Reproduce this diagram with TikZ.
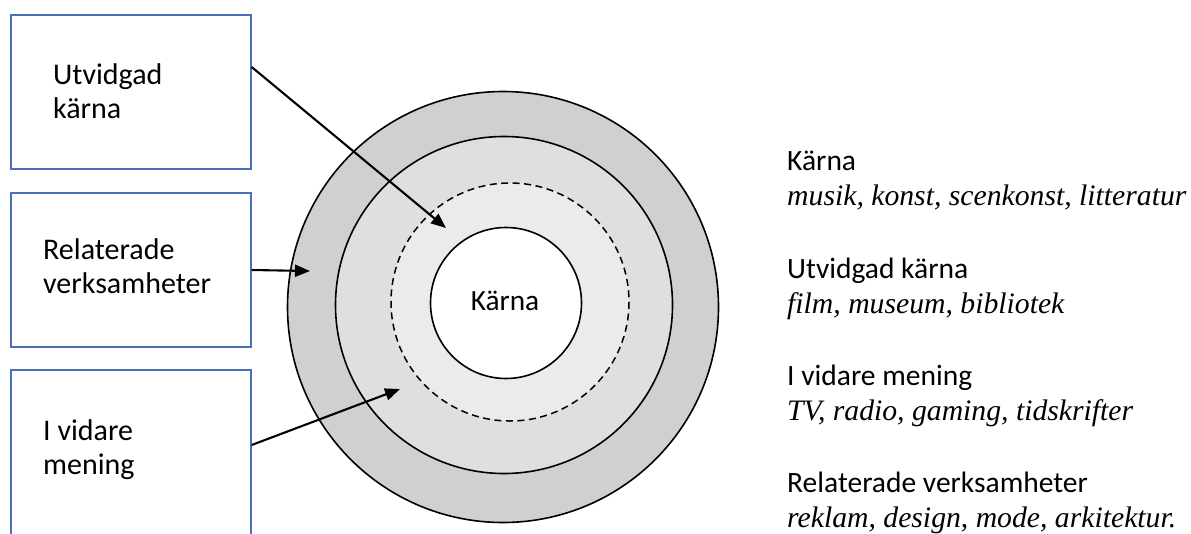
\documentclass[tikz,border=0pt]{standalone}
\usepackage{fontspec}
\setmainfont{Liberation Serif}
\newfontfamily\calfont{Carlito}
\usetikzlibrary{arrows.meta}
\definecolor{boxblue}{HTML}{4A72B8}
\definecolor{ringA}{HTML}{D0D0D0}
\definecolor{ringB}{HTML}{DEDFDF}
\definecolor{ringC}{HTML}{EBEBEB}
\begin{document}
\begin{tikzpicture}[x=1pt,y=-1pt,
  labelbox/.style={draw=boxblue,line width=1.3pt,fill=white,minimum width=240pt,minimum height=154pt,inner sep=0pt},
  boxtext/.style={anchor=base west,inner sep=0pt,font=\calfont\fontsize{30}{33.5}\selectfont,align=left},
  ring/.style={draw=black,line width=1.6pt},
  conn/.style={line width=2.1pt,-{Triangle[length=15pt,width=12pt]}},
  headtext/.style={anchor=base west,inner sep=0pt,font=\calfont\fontsize{29.5}{32}\selectfont},
  itext/.style={anchor=base west,inner sep=0pt,font=\fontsize{29.7}{32}\itshape\selectfont}]
\useasboundingbox (0,0) rectangle (1191,533);
\clip (0,0) rectangle (1191,533);
\fill[white] (0,0) rectangle (1191,533);
% circles
\filldraw[ring,fill=ringA] (503,307) circle[radius=215.5];
\filldraw[ring,fill=ringB] (504,305) circle[radius=168.5];
\filldraw[fill=ringC,draw=black,line width=1.5pt,dash pattern=on 7pt off 4.5pt] (510,302) circle[radius=119];
\filldraw[ring,fill=white] (506,303) circle[radius=75.5];
\node[inner sep=0pt,anchor=base,font=\calfont\fontsize{29.3}{32}\selectfont] (core) at (505,310) {Kärna};
% boxes
\node[labelbox] (box1) at (131,92) {};
\node[labelbox] (box2) at (131,270) {};
\node[labelbox,minimum height=200pt] (box3) at (131,470) {};
\node[boxtext] (t1) at (53,118) {Utvidgad\\kärna};
\node[boxtext] (t2) at (43,293) {Relaterade\\verksamheter};
\node[boxtext] (t3) at (43,474) {I vidare\\mening};
% arrow targets
\coordinate (p1) at (446,228);
\coordinate (p2) at (310,271);
\coordinate (p3) at (400,389);
\draw[conn] ([yshift=25pt]box1.east) -- (p1);
\draw[conn] (box2.east) -- (p2);
\draw[conn] (box3.east |- 0,445) -- (p3);
% legend
\node[headtext] (h1) at (787,170) {Kärna};
\node[itext] (i1) at (787,205) {musik, konst, scenkonst, litteratur};
\node[headtext] (h2) at (787,278) {Utvidgad kärna};
\node[itext] (i2) at (787,313) {film, museum, bibliotek};
\node[headtext] (h3) at (787,385) {I vidare mening};
\node[itext] (i3) at (787,420) {TV, radio, gaming, tidskrifter};
\node[headtext] (h4) at (787,492) {Relaterade verksamheter};
\node[itext] (i4) at (787,527) {reklam, design, mode, arkitektur.};
\end{tikzpicture}
\end{document}
